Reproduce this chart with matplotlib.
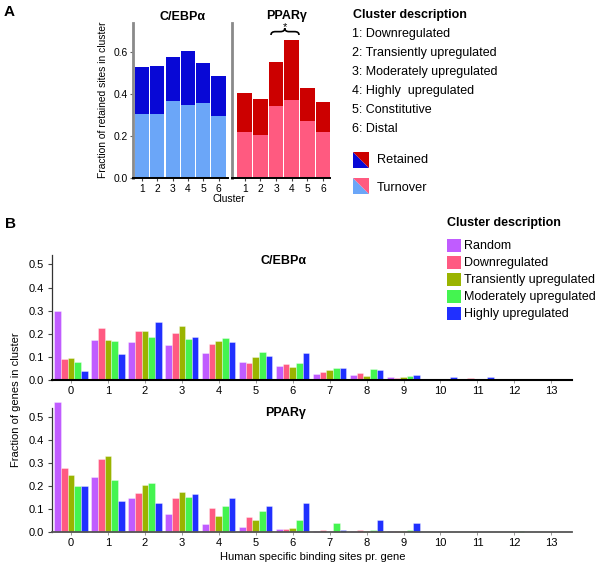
import matplotlib
matplotlib.use('Agg')
import matplotlib.pyplot as plt
from matplotlib.patches import Polygon, Rectangle, PathPatch
from matplotlib.path import Path
from matplotlib.transforms import Affine2D
import numpy as np

plt.rcParams['font.family'] = ['Liberation Sans', 'DejaVu Sans']

# ---------------- Data: panel A ----------------
clusters = [1, 2, 3, 4, 5, 6]
cebp_turnover = [0.303, 0.303, 0.367, 0.346, 0.356, 0.297]
cebp_retained = [0.224, 0.229, 0.208, 0.259, 0.192, 0.187]
ppar_turnover = [0.220, 0.206, 0.343, 0.370, 0.270, 0.218]
ppar_retained = [0.186, 0.170, 0.211, 0.289, 0.159, 0.142]
cluster_desc = ["1: Downregulated", "2: Transiently upregulated",
                "3: Moderately upregulated", "4: Highly  upregulated",
                "5: Constitutive", "6: Distal"]

# ---------------- Data: panel B ----------------
sites = list(range(14))
series_names = ["Random", "Downregulated", "Transiently upregulated",
                "Moderately upregulated", "Highly upregulated"]
cebp_random = [0.297, 0.175, 0.163, 0.153, 0.115, 0.080, 0.061, 0.024, 0.022, 0.013, 0.005, 0.003, 0.001, 0.001]
cebp_down   = [0.090, 0.226, 0.213, 0.202, 0.156, 0.073, 0.068, 0.034, 0.030, 0.009, 0.005, 0.008, 0.000, 0.000]
cebp_trans  = [0.095, 0.175, 0.210, 0.233, 0.170, 0.100, 0.058, 0.042, 0.016, 0.012, 0.002, 0.000, 0.000, 0.000]
cebp_mod    = [0.079, 0.170, 0.185, 0.176, 0.183, 0.121, 0.075, 0.053, 0.046, 0.016, 0.000, 0.002, 0.002, 0.000]
cebp_high   = [0.041, 0.114, 0.249, 0.186, 0.166, 0.103, 0.115, 0.054, 0.043, 0.023, 0.012, 0.012, 0.000, 0.000]

ppar_random = [0.562, 0.237, 0.147, 0.079, 0.036, 0.020, 0.015, 0.003, 0.004, 0.003, 0.001, 0.000, 0.000, 0.000]
ppar_down   = [0.275, 0.314, 0.167, 0.147, 0.105, 0.067, 0.012, 0.007, 0.007, 0.004, 0.000, 0.000, 0.000, 0.000]
ppar_trans  = [0.249, 0.329, 0.205, 0.173, 0.070, 0.052, 0.017, 0.001, 0.004, 0.004, 0.000, 0.000, 0.000, 0.000]
ppar_mod    = [0.199, 0.227, 0.214, 0.153, 0.114, 0.089, 0.052, 0.038, 0.010, 0.007, 0.000, 0.000, 0.003, 0.000]
ppar_high   = [0.198, 0.135, 0.125, 0.166, 0.146, 0.114, 0.124, 0.009, 0.051, 0.041, 0.000, 0.000, 0.000, 0.000]

# ---------------- Styles ----------------
W, H = 600, 581
c_dblue, c_lblue = '#0808D6', '#6BA6F8'
c_dred, c_pink = '#CC0000', '#FF5A80'
b_colors = ['#C05CFF', '#FF5A82', '#9AB400', '#44F450', '#2030FF']

fig = plt.figure(figsize=(6, 5.81), dpi=100)
px = Affine2D().scale(1.0 / W, -1.0 / H).translate(0, 1) + fig.transFigure


def axrect(x0, y_bottom, x1, y_top):
    return [x0 / W, 1 - y_bottom / H, (x1 - x0) / W, (y_bottom - y_top) / H]


def ptext(x, y, s, **kw):
    kw.setdefault('va', 'center')
    fig.text(x / W, 1 - y / H, s, **kw)


# ---------------- Panel A ----------------
def style_a(ax, show_y):
    for s in ['top', 'right']:
        ax.spines[s].set_visible(False)
    ax.spines['left'].set_color('#8a8a8a')
    ax.spines['left'].set_linewidth(2.0)
    ax.spines['bottom'].set_color('black')
    ax.spines['bottom'].set_linewidth(1.4)
    ax.set_xticks(clusters)
    ax.set_xticklabels([str(c) for c in clusters], fontsize=7.4)
    ax.tick_params(axis='x', length=2.5, width=0.8, pad=1.5, color='#444444')
    if show_y:
        ax.set_yticks([0, 0.2, 0.4, 0.6])
        ax.set_yticklabels(['0.0', '0.2', '0.4', '0.6'], fontsize=7.4)
        ax.tick_params(axis='y', length=2.5, width=0.8, pad=1.5, color='#666666')
    else:
        ax.set_yticks([])
    ax.set_ylim(0, 0.74)


axA1 = fig.add_axes(axrect(133, 178, 228, 22.6))
axA1.bar(clusters, cebp_turnover, width=0.92, color=c_lblue, linewidth=0)
axA1.bar(clusters, cebp_retained, bottom=cebp_turnover, width=0.92, color=c_dblue, linewidth=0)
axA1.set_xlim(0.41, 6.62)
style_a(axA1, True)

axA2 = fig.add_axes(axrect(232, 178, 330, 22.6))
axA2.bar(clusters, ppar_turnover, width=0.92, color=c_pink, linewidth=0)
axA2.bar(clusters, ppar_retained, bottom=ppar_turnover, width=0.92, color=c_dred, linewidth=0)
axA2.set_xlim(0.19, 6.45)
style_a(axA2, False)

# significance brace over clusters 3 and 4
x0, x1 = 2.68, 4.47
xm = 3.56
ye, ym, yt = 0.681, 0.697, 0.713
d = 0.28
verts = [(x0, ye), (x0, ym), (x0 + d, ym), (xm - d, ym), (xm, ym), (xm, yt),
         (xm, yt), (xm, ym), (xm + d, ym), (x1 - d, ym), (x1, ym), (x1, ye)]
codes = [Path.MOVETO, Path.CURVE3, Path.CURVE3, Path.LINETO, Path.CURVE3, Path.CURVE3,
         Path.MOVETO, Path.CURVE3, Path.CURVE3, Path.LINETO, Path.CURVE3, Path.CURVE3]
axA2.add_patch(PathPatch(Path(verts, codes), facecolor='none', edgecolor='black',
                         linewidth=1.2, clip_on=False))
axA2.text(xm, 0.721, '*', ha='center', va='center', fontsize=8)

ptext(183, 16.5, 'C/EBPα', ha='center', fontsize=9, fontweight='bold')
ptext(286.5, 16.5, 'PPARγ', ha='center', fontsize=9, fontweight='bold')
ptext(102.5, 100, 'Fraction of retained sites in cluster', ha='center',
      rotation=90, fontsize=7.4)
ptext(229, 198.5, 'Cluster', ha='center', fontsize=7.4)
ptext(9, 12, 'A', ha='center', fontsize=11, fontweight='bold')

# legend A
ptext(353, 15, 'Cluster description', fontsize=9, fontweight='bold')
for i, s in enumerate(cluster_desc):
    ptext(352.5, 34.3 + i * 19, s, fontsize=9)


def split_patch(xl, yt_, size, c_bl, c_tr):
    xr, yb = xl + size, yt_ + size
    fig.add_artist(Polygon([(xl, yt_), (xl, yb), (xr, yb)], closed=True,
                           facecolor=c_bl, edgecolor='none', transform=px))
    fig.add_artist(Polygon([(xl, yt_), (xr, yt_), (xr, yb)], closed=True,
                           facecolor=c_tr, edgecolor='none', transform=px))


split_patch(353, 152, 16, c_dblue, c_dred)
split_patch(353, 178, 16, c_lblue, c_pink)
ptext(377, 160, 'Retained', fontsize=9.2)
ptext(377, 188.3, 'Turnover', fontsize=9.2)

# ---------------- Panel B ----------------
bw = 0.18
offsets = [-2 * bw, -bw, 0, bw, 2 * bw]


def draw_b(ax, series, ymax, axis_color, axis_lw):
    x = np.array(sites, dtype=float)
    for off, vals, col in zip(offsets, series, b_colors):
        bars = ax.bar(x + off, vals, width=bw, color=col, linewidth=0.4,
                      edgecolor='#ffffff99')
        for b in bars:
            b.set_clip_on(False)
    ax.set_xlim(-0.514, 13.56)
    ax.set_ylim(0, ymax)
    for s in ['top', 'right']:
        ax.spines[s].set_visible(False)
    ax.spines['left'].set_color('#333333')
    ax.spines['left'].set_linewidth(0.9)
    ax.spines['bottom'].set_color(axis_color)
    ax.spines['bottom'].set_linewidth(axis_lw)
    ax.set_xticks(sites)
    ax.set_xticklabels([str(s) for s in sites], fontsize=8)
    ax.set_yticks([0, 0.1, 0.2, 0.3, 0.4, 0.5])
    ax.set_yticklabels(['0.0', '0.1', '0.2', '0.3', '0.4', '0.5'], fontsize=8)
    ax.tick_params(axis='x', length=2, width=0.7, pad=2.5, color='#999999')
    ax.tick_params(axis='y', length=3, width=0.8, pad=2.5, color='#444444')


axB1 = fig.add_axes(axrect(52, 380, 572, 255))
draw_b(axB1, [cebp_random, cebp_down, cebp_trans, cebp_mod, cebp_high], 0.541, 'black', 1.5)

axB2 = fig.add_axes(axrect(52, 532, 572, 408))
draw_b(axB2, [ppar_random, ppar_down, ppar_trans, ppar_mod, ppar_high], 0.537, '#555555', 1.3)

ptext(284, 261, 'C/EBPα', ha='center', fontsize=9, fontweight='bold')
ptext(286, 413, 'PPARγ', ha='center', fontsize=9, fontweight='bold')
ptext(16, 400, 'Fraction of genes in cluster', ha='center', rotation=90, fontsize=8)
ptext(313, 557.5, 'Human specific binding sites pr. gene', ha='center', fontsize=8)
ptext(10, 224, 'B', ha='center', fontsize=11, fontweight='bold')

# legend B
ptext(447, 223, 'Cluster description', fontsize=9, fontweight='bold')
for i, (name, col) in enumerate(zip(series_names, b_colors)):
    yc = 245.7 + i * 17
    fig.add_artist(Rectangle((447, yc - 6.5), 14, 13, facecolor=col,
                             edgecolor='none', transform=px))
    ptext(464, yc, name, fontsize=9)

fig.savefig('out.png', dpi=100)
